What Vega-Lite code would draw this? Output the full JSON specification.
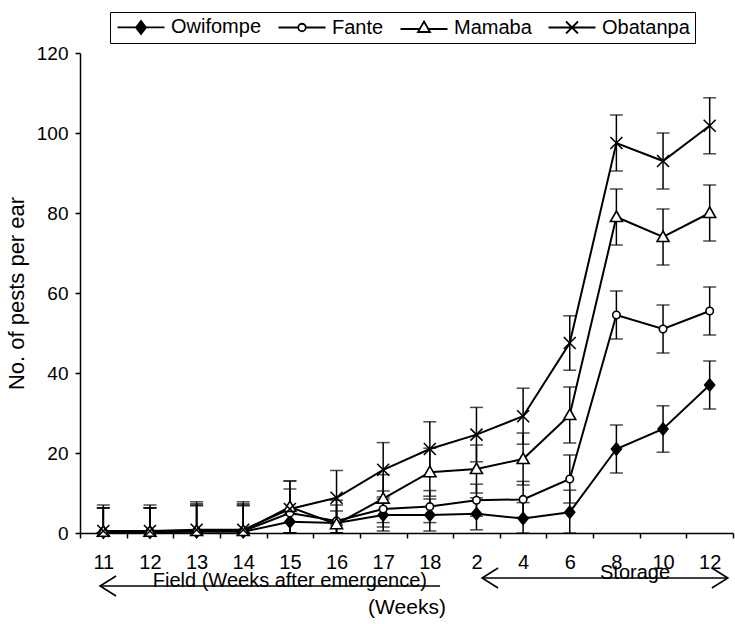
{
  "$schema": "https://vega.github.io/schema/vega-lite/v6.json",
  "width": 653,
  "height": 480,
  "autosize": "none",
  "padding": {"left": 80, "top": 53, "right": 2, "bottom": 91},
  "config": {
    "font": "Liberation Sans",
    "view": {"stroke": null},
    "axis": {"grid": false, "domainColor": "black", "tickColor": "black", "labelColor": "black", "titleColor": "black", "domainWidth": 1.5, "tickWidth": 1.5}
  },
  "datasets": {
    "pests": [
      {"series": "Obatanpa", "t": 0, "v": 0.5, "lo": 0, "hi": 7},
      {"series": "Obatanpa", "t": 1, "v": 0.5, "lo": 0, "hi": 7},
      {"series": "Obatanpa", "t": 2, "v": 0.8, "lo": 0, "hi": 7.8},
      {"series": "Obatanpa", "t": 3, "v": 0.8, "lo": 0, "hi": 7.8},
      {"series": "Obatanpa", "t": 4, "v": 6, "lo": 0, "hi": 13},
      {"series": "Obatanpa", "t": 5, "v": 8.8, "lo": 2, "hi": 15.6},
      {"series": "Obatanpa", "t": 6, "v": 15.8, "lo": 9, "hi": 22.6},
      {"series": "Obatanpa", "t": 7, "v": 21, "lo": 14.2, "hi": 27.8},
      {"series": "Obatanpa", "t": 8, "v": 24.6, "lo": 17.8, "hi": 31.4},
      {"series": "Obatanpa", "t": 9, "v": 29.2, "lo": 22.2, "hi": 36.2},
      {"series": "Obatanpa", "t": 10, "v": 47.5, "lo": 40.7, "hi": 54.3},
      {"series": "Obatanpa", "t": 11, "v": 97.5, "lo": 90.5, "hi": 104.5},
      {"series": "Obatanpa", "t": 12, "v": 93, "lo": 86, "hi": 100},
      {"series": "Obatanpa", "t": 13, "v": 101.8, "lo": 94.8, "hi": 108.8},
      {"series": "Mamaba", "t": 0, "v": 0.3, "lo": 0, "hi": 6.3},
      {"series": "Mamaba", "t": 1, "v": 0.3, "lo": 0, "hi": 6.3},
      {"series": "Mamaba", "t": 2, "v": 0.5, "lo": 0, "hi": 7.3},
      {"series": "Mamaba", "t": 3, "v": 0.5, "lo": 0, "hi": 7.3},
      {"series": "Mamaba", "t": 4, "v": 6.5, "lo": 0, "hi": 13},
      {"series": "Mamaba", "t": 5, "v": 2.2, "lo": 0, "hi": 8.2},
      {"series": "Mamaba", "t": 6, "v": 8.6, "lo": 2.6, "hi": 14.6},
      {"series": "Mamaba", "t": 7, "v": 15.2, "lo": 9.2, "hi": 21.2},
      {"series": "Mamaba", "t": 8, "v": 16, "lo": 10, "hi": 22},
      {"series": "Mamaba", "t": 9, "v": 18.5, "lo": 12, "hi": 25},
      {"series": "Mamaba", "t": 10, "v": 29.5, "lo": 22.5, "hi": 36.5},
      {"series": "Mamaba", "t": 11, "v": 79, "lo": 72, "hi": 86},
      {"series": "Mamaba", "t": 12, "v": 74, "lo": 67, "hi": 81},
      {"series": "Mamaba", "t": 13, "v": 80, "lo": 73, "hi": 87},
      {"series": "Fante", "t": 0, "v": 0.3, "lo": 0, "hi": 6.3},
      {"series": "Fante", "t": 1, "v": 0.3, "lo": 0, "hi": 6.3},
      {"series": "Fante", "t": 2, "v": 0.5, "lo": 0, "hi": 7},
      {"series": "Fante", "t": 3, "v": 0.5, "lo": 0, "hi": 7},
      {"series": "Fante", "t": 4, "v": 5, "lo": 0, "hi": 11},
      {"series": "Fante", "t": 5, "v": 3, "lo": 0, "hi": 7},
      {"series": "Fante", "t": 6, "v": 6, "lo": 1.5, "hi": 10.5},
      {"series": "Fante", "t": 7, "v": 6.6, "lo": 2.6, "hi": 10.6},
      {"series": "Fante", "t": 8, "v": 8.2, "lo": 4.2, "hi": 12.2},
      {"series": "Fante", "t": 9, "v": 8.4, "lo": 3.9, "hi": 12.9},
      {"series": "Fante", "t": 10, "v": 13.5, "lo": 7.5, "hi": 19.5},
      {"series": "Fante", "t": 11, "v": 54.5, "lo": 48.5, "hi": 60.5},
      {"series": "Fante", "t": 12, "v": 51, "lo": 45, "hi": 57},
      {"series": "Fante", "t": 13, "v": 55.5, "lo": 49.5, "hi": 61.5},
      {"series": "Owifompe", "t": 0, "v": 0.2, "lo": 0, "hi": 6.2},
      {"series": "Owifompe", "t": 1, "v": 0.2, "lo": 0, "hi": 6.2},
      {"series": "Owifompe", "t": 2, "v": 0.3, "lo": 0, "hi": 6.8},
      {"series": "Owifompe", "t": 3, "v": 0.3, "lo": 0, "hi": 6.8},
      {"series": "Owifompe", "t": 4, "v": 2.8, "lo": 0, "hi": 5.8},
      {"series": "Owifompe", "t": 5, "v": 2.5, "lo": 0, "hi": 5.5},
      {"series": "Owifompe", "t": 6, "v": 4.5, "lo": 0.5, "hi": 8.5},
      {"series": "Owifompe", "t": 7, "v": 4.5, "lo": 0.5, "hi": 8.5},
      {"series": "Owifompe", "t": 8, "v": 4.8, "lo": 0.8, "hi": 8.8},
      {"series": "Owifompe", "t": 9, "v": 3.6, "lo": 0, "hi": 7.6},
      {"series": "Owifompe", "t": 10, "v": 5.2, "lo": 0, "hi": 10.7},
      {"series": "Owifompe", "t": 11, "v": 21, "lo": 15, "hi": 27},
      {"series": "Owifompe", "t": 12, "v": 26, "lo": 20.2, "hi": 31.8},
      {"series": "Owifompe", "t": 13, "v": 37, "lo": 31, "hi": 43}
    ],
    "arrows": [
      {"kind": "field", "label": "Field (Weeks after emergence)", "x1": -0.07, "x2": 7.22, "ly": -13.25, "tx": 4.0, "ty": -13.6},
      {"kind": "storage", "label": "Storage", "x1": 8.12, "x2": 13.39, "ly": -11.25, "tx": 11.4, "ty": -11.4}
    ]
  },
  "layer": [
    {
      "data": {"name": "pests"},
      "mark": {"type": "rule", "color": "black", "strokeWidth": 1.5},
      "encoding": {
        "x": {"field": "t", "type": "quantitative", "scale": {"domain": [-0.5, 13.5], "nice": false, "zero": false},
          "axis": {
            "title": "(Weeks)",
            "titleFontSize": 21, "titleFontWeight": "normal", "titlePadding": 24,
            "values": [-0.5, 0.5, 1.5, 2.5, 3.5, 4.5, 5.5, 6.5, 7.5, 8.5, 9.5, 10.5, 11.5, 12.5, 13.5],
            "labelExpr": "datum.value < 13 ? ['11','12','13','14','15','16','17','18','2','4','6','8','10','12'][datum.value + 0.5] : ''",
            "labelOffset": 23.32, "labelOverlap": false, "labelBound": false, "labelFlush": false,
            "labelFontSize": 20, "labelPadding": 14, "tickSize": 5
          }},
        "y": {"field": "lo", "type": "quantitative", "scale": {"domain": [0, 120], "nice": false},
          "axis": {
            "title": "No. of pests per ear",
            "titleFontSize": 22, "titleFontWeight": "normal", "titlePadding": 8,
            "values": [0, 20, 40, 60, 80, 100, 120],
            "labelFontSize": 19, "labelPadding": 7, "tickSize": 5
          }},
        "y2": {"field": "hi"}
      }
    },
    {
      "data": {"name": "pests"},
      "mark": {"type": "tick", "color": "black", "orient": "horizontal", "size": 13, "thickness": 1.5},
      "encoding": {
        "x": {"field": "t", "type": "quantitative"},
        "y": {"field": "hi", "type": "quantitative"}
      }
    },
    {
      "data": {"name": "pests"},
      "mark": {"type": "tick", "color": "black", "orient": "horizontal", "size": 13, "thickness": 1.5},
      "encoding": {
        "x": {"field": "t", "type": "quantitative"},
        "y": {"field": "lo", "type": "quantitative"}
      }
    },
    {
      "data": {"name": "pests"},
      "mark": {"type": "line", "color": "black", "strokeWidth": 2},
      "encoding": {
        "x": {"field": "t", "type": "quantitative"},
        "y": {"field": "v", "type": "quantitative"},
        "detail": {"field": "series"}
      }
    },
    {
      "data": {"name": "pests"},
      "mark": {"type": "point", "opacity": 0, "size": 100, "filled": true},
      "encoding": {
        "x": {"field": "t", "type": "quantitative"},
        "y": {"field": "v", "type": "quantitative"},
        "shape": {"field": "series", "type": "nominal",
          "scale": {"domain": ["Owifompe", "Fante", "Mamaba", "Obatanpa"],
            "range": ["M-4.7,0H4.7M-1,0L0,-1.3L1,0L0,1.3Z", "M-4.7,0H-0.75M0.75,0H4.7M0.75,0A0.75,0.75,0,1,1,-0.75,0A0.75,0.75,0,1,1,0.75,0Z", "M-4.7,0.3H-0.86M0.86,0.3H4.7M0,-1.2L1.2,0.9L-1.2,0.9Z", "M-4.7,0H4.7M-1.2,-1.2L1.2,1.2M-1.2,1.2L1.2,-1.2"]},
          "legend": {
            "orient": "none", "legendX": 30, "legendY": -41, "direction": "horizontal", "columns": 4,
            "title": null, "strokeColor": "black", "padding": 5,
            "symbolSize": 100, "symbolStrokeWidth": 1.8, "symbolOpacity": 1,
            "symbolOffset": 16, "labelOffset": 20, "columnPadding": 12,
            "labelFontSize": 20, "labelColor": "black", "labelFont": "Liberation Sans"
          }},
        "fill": {"field": "series", "type": "nominal",
          "scale": {"domain": ["Owifompe", "Fante", "Mamaba", "Obatanpa"], "range": ["black", "white", "white", "white"]}},
        "stroke": {"field": "series", "type": "nominal",
          "scale": {"domain": ["Owifompe", "Fante", "Mamaba", "Obatanpa"], "range": ["black", "black", "black", "black"]}}
      }
    },
    {
      "data": {"name": "pests"},
      "transform": [{"filter": "datum.series === 'Owifompe'"}],
      "mark": {"type": "point", "shape": "M-1,0L0,-1.2L1,0L0,1.2Z", "size": 100, "filled": false, "fill": "black", "stroke": "black", "strokeWidth": 1.6, "opacity": 1},
      "encoding": {
        "x": {"field": "t", "type": "quantitative"},
        "y": {"field": "v", "type": "quantitative"}
      }
    },
    {
      "data": {"name": "pests"},
      "transform": [{"filter": "datum.series === 'Fante'"}],
      "mark": {"type": "point", "shape": "M0.75,0A0.75,0.75,0,1,1,-0.75,0A0.75,0.75,0,1,1,0.75,0Z", "size": 100, "filled": false, "fill": "white", "stroke": "black", "strokeWidth": 1.6, "opacity": 1},
      "encoding": {
        "x": {"field": "t", "type": "quantitative"},
        "y": {"field": "v", "type": "quantitative"}
      }
    },
    {
      "data": {"name": "pests"},
      "transform": [{"filter": "datum.series === 'Mamaba'"}],
      "mark": {"type": "point", "shape": "M0,-1.2L1.2,0.9L-1.2,0.9Z", "size": 100, "filled": false, "fill": "white", "stroke": "black", "strokeWidth": 1.6, "opacity": 1},
      "encoding": {
        "x": {"field": "t", "type": "quantitative"},
        "y": {"field": "v", "type": "quantitative"}
      }
    },
    {
      "data": {"name": "pests"},
      "transform": [{"filter": "datum.series === 'Obatanpa'"}],
      "mark": {"type": "point", "shape": "M-1.2,-1.2L1.2,1.2M-1.2,1.2L1.2,-1.2", "size": 100, "filled": false, "stroke": "black", "strokeWidth": 1.6, "opacity": 1},
      "encoding": {
        "x": {"field": "t", "type": "quantitative"},
        "y": {"field": "v", "type": "quantitative"}
      }
    },
    {
      "data": {"name": "arrows"},
      "mark": {"type": "rule", "color": "black", "strokeWidth": 1.6},
      "encoding": {
        "x": {"field": "x1", "type": "quantitative"},
        "x2": {"field": "x2"},
        "y": {"field": "ly", "type": "quantitative"}
      }
    },
    {
      "data": {"name": "arrows"},
      "mark": {"type": "point", "shape": "M1.6,-1L0,0L1.6,1", "size": 400, "filled": false, "stroke": "black", "strokeWidth": 1.6, "opacity": 1},
      "encoding": {
        "x": {"field": "x1", "type": "quantitative"},
        "y": {"field": "ly", "type": "quantitative"}
      }
    },
    {
      "data": {"name": "arrows"},
      "transform": [{"filter": "datum.kind === 'storage'"}],
      "mark": {"type": "point", "shape": "M-1.6,-1L0,0L-1.6,1", "size": 400, "filled": false, "stroke": "black", "strokeWidth": 1.6, "opacity": 1},
      "encoding": {
        "x": {"field": "x2", "type": "quantitative"},
        "y": {"field": "ly", "type": "quantitative"}
      }
    },
    {
      "data": {"name": "arrows"},
      "mark": {"type": "text", "fontSize": 20, "color": "black", "align": "center", "baseline": "alphabetic"},
      "encoding": {
        "x": {"field": "tx", "type": "quantitative"},
        "y": {"field": "ty", "type": "quantitative"},
        "text": {"field": "label"}
      }
    }
  ]
}
